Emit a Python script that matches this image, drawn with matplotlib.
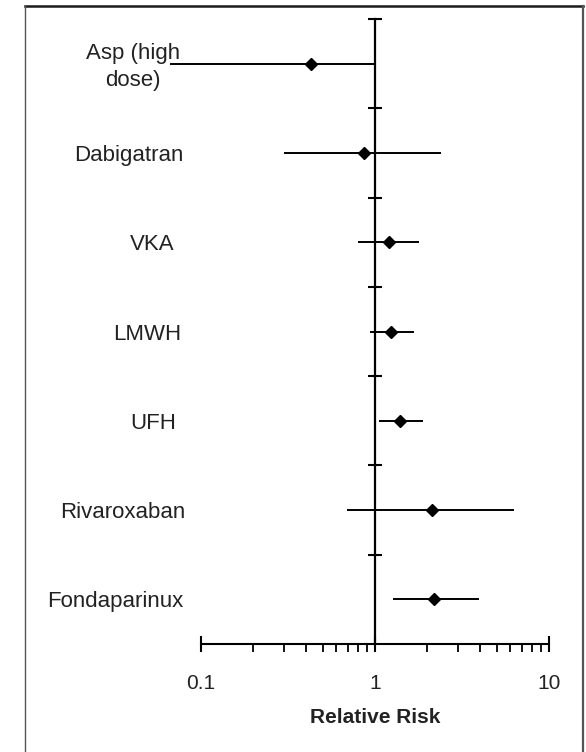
#!/usr/bin/env python3
import numpy as np
import matplotlib
matplotlib.use("Agg")
import matplotlib.pyplot as plt
from matplotlib.lines import Line2D
from matplotlib.ticker import FixedLocator, LogLocator, NullFormatter

plt.rcParams['font.family'] = ['Liberation Sans', 'DejaVu Sans']

# Data (top row first)
treatments = ['Asp (high\ndose)', 'Dabigatran', 'VKA', 'LMWH', 'UFH',
              'Rivaroxaban', 'Fondaparinux']
rr = [0.43, 0.86, 1.20, 1.23, 1.39, 2.13, 2.18]
ci_low = [0.066, 0.30, 0.80, 0.94, 1.05, 0.69, 1.27]
ci_high = [1.0, 2.39, 1.79, 1.68, 1.89, 6.29, 3.96]
x_ticks = [0.1, 1, 10]
x_tick_labels = ['0.1', '1', '10']

# label centres in pixels (layout only)
label_px = [133, 129, 152, 147, 153, 123, 115]

W, H = 586, 752
fig = plt.figure(figsize=(W / 100, H / 100), dpi=100)

# outer frame like the original figure box
fig.add_artist(Line2D([25 / W, 583 / W], [1 - 6 / H, 1 - 6 / H], color='#1a1a1a', lw=1.8))
fig.add_artist(Line2D([25 / W, 25 / W], [0, 1 - 6 / H], color='#555555', lw=1.0))
fig.add_artist(Line2D([583 / W, 583 / W], [0, 1 - 6 / H], color='#555555', lw=1.6))

ax_left, ax_right = 201, 549
ax_top, ax_bottom = 19, 644
ax = fig.add_axes([ax_left / W, 1 - ax_bottom / H,
                   (ax_right - ax_left) / W, (ax_bottom - ax_top) / H])
ax.set_xscale('log')
ax.set_xlim(0.1, 10)
ax.set_ylim(0.5, 7.5)

n = len(treatments)
ypos = np.arange(n, 0, -1)

# line of no effect with row separators
ax.plot([1, 1], [0.5, 7.5], color='black', lw=1.6, clip_on=False, zorder=2)
ax.plot(np.ones(n), ypos + 0.5, ls='none', marker='_', ms=10, mew=1.5,
        color='black', clip_on=False, zorder=2)

# confidence intervals and point estimates
rr_a = np.array(rr)
xerr = [rr_a - np.array(ci_low), np.array(ci_high) - rr_a]
ax.errorbar(rr, ypos, xerr=xerr, fmt='D', color='black', ms=6.5,
            elinewidth=1.4, capsize=0, clip_on=False, zorder=3)

for lab, y, px in zip(treatments, ypos, label_px):
    if '\n' in lab:
        # two-line label sits a little below the row centre
        ax.text((px - ax_left) / (ax_right - ax_left), y - 0.04, lab,
                transform=ax.get_yaxis_transform(), ha='center', va='center',
                fontsize=16, color='#222222', linespacing=1.35,
                multialignment='center')
    else:
        ax.text((px - ax_left) / (ax_right - ax_left), y, lab,
                transform=ax.get_yaxis_transform(), ha='center',
                va='center_baseline', fontsize=16, color='#222222')

for s in ['top', 'right', 'left']:
    ax.spines[s].set_visible(False)
ax.spines['bottom'].set_linewidth(1.5)
ax.yaxis.set_visible(False)

ax.xaxis.set_major_locator(FixedLocator(x_ticks))
ax.set_xticklabels(x_tick_labels)
ax.xaxis.set_minor_locator(LogLocator(base=10, subs=np.arange(2, 10)))
ax.xaxis.set_minor_formatter(NullFormatter())
ax.tick_params(axis='x', which='major', direction='inout', length=11, width=1.5,
               pad=16, labelsize=15, labelcolor='#222222')
ax.tick_params(axis='x', which='minor', direction='out', length=6, width=1.3)

ax.set_xlabel('Relative Risk', fontsize=15, fontweight='bold', color='#222222',
              labelpad=11)

fig.savefig('out.png', dpi=100)
